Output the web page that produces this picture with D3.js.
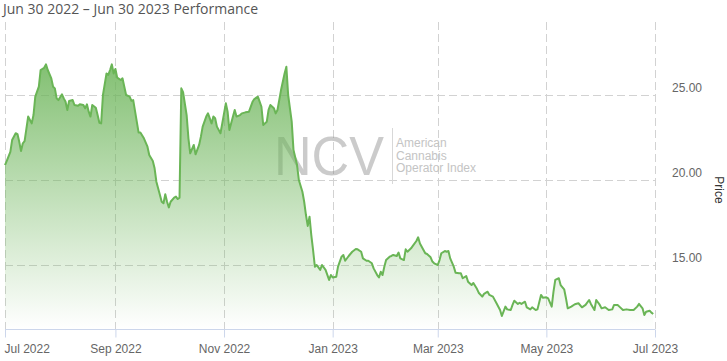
<!DOCTYPE html>
<html>
<head>
<meta charset="utf-8">
<script src="https://cdn.jsdelivr.net/npm/d3@7"></script>
<style>
  html, body { margin: 0; padding: 0; background: #fff; }
  svg { display: block; }
</style>
</head>
<body>
<svg id="chart" width="727" height="361"></svg>
<script>
const titleText = "Jun 30 2022 \u2013 Jun 30 2023 Performance";
const yAxisTitle = "Price";
const watermarkBig = "NCV";
const watermarkLines = ["American", "Cannabis", "Operator Index"];

const dates = [
"2022-07-01","2022-07-02","2022-07-04","2022-07-05","2022-07-07","2022-07-08","2022-07-09","2022-07-10","2022-07-11","2022-07-12",
"2022-07-14","2022-07-15","2022-07-16","2022-07-17","2022-07-18","2022-07-20","2022-07-21","2022-07-23","2022-07-24","2022-07-25",
"2022-07-27","2022-07-28","2022-07-29","2022-07-30","2022-07-31","2022-08-02","2022-08-03","2022-08-04","2022-08-05","2022-08-06",
"2022-08-08","2022-08-09","2022-08-11","2022-08-12","2022-08-14","2022-08-15","2022-08-16","2022-08-17","2022-08-18","2022-08-19",
"2022-08-21","2022-08-22","2022-08-23","2022-08-24","2022-08-25","2022-08-27","2022-08-28","2022-08-29","2022-08-30","2022-08-31",
"2022-09-01","2022-09-02","2022-09-04","2022-09-05","2022-09-06","2022-09-07","2022-09-09","2022-09-10","2022-09-11","2022-09-13",
"2022-09-14","2022-09-15","2022-09-17","2022-09-19","2022-09-20","2022-09-22","2022-09-23","2022-09-24","2022-09-26","2022-09-27",
"2022-09-28","2022-09-29","2022-09-30","2022-10-01","2022-10-02","2022-10-04","2022-10-05","2022-10-06","2022-10-07","2022-10-08",
"2022-10-09","2022-10-11","2022-10-12","2022-10-13","2022-10-15","2022-10-16","2022-10-18","2022-10-19","2022-10-20","2022-10-22",
"2022-10-23","2022-10-25","2022-10-26","2022-10-27","2022-10-28","2022-10-30","2022-10-31","2022-11-02","2022-11-03","2022-11-04",
"2022-11-06","2022-11-07","2022-11-08","2022-11-10","2022-11-11","2022-11-13","2022-11-15","2022-11-17","2022-11-18","2022-11-20",
"2022-11-22","2022-11-23","2022-11-25","2022-11-26","2022-11-27","2022-11-29","2022-11-30","2022-12-01","2022-12-03","2022-12-04",
"2022-12-05","2022-12-06","2022-12-07","2022-12-09","2022-12-10","2022-12-12","2022-12-13","2022-12-15","2022-12-16","2022-12-17",
"2022-12-18","2022-12-19","2022-12-20","2022-12-21","2022-12-22","2022-12-23","2022-12-24","2022-12-25","2022-12-26","2022-12-28",
"2022-12-30","2022-12-31","2023-01-01","2023-01-03","2023-01-04","2023-01-06","2023-01-07","2023-01-08","2023-01-10","2023-01-12",
"2023-01-14","2023-01-15","2023-01-17","2023-01-18","2023-01-20","2023-01-21","2023-01-23","2023-01-24","2023-01-26","2023-01-27",
"2023-01-28","2023-01-29","2023-01-30","2023-01-31","2023-02-02","2023-02-03","2023-02-04","2023-02-06","2023-02-07","2023-02-08",
"2023-02-10","2023-02-11","2023-02-12","2023-02-14","2023-02-15","2023-02-17","2023-02-18","2023-02-19","2023-02-21","2023-02-22",
"2023-02-23","2023-02-25","2023-02-26","2023-02-27","2023-03-01","2023-03-02","2023-03-03","2023-03-05","2023-03-06","2023-03-07",
"2023-03-08","2023-03-10","2023-03-11","2023-03-13","2023-03-14","2023-03-15","2023-03-17","2023-03-18","2023-03-20","2023-03-21",
"2023-03-23","2023-03-24","2023-03-26","2023-03-27","2023-03-29","2023-03-30","2023-04-01","2023-04-03","2023-04-05","2023-04-06",
"2023-04-08","2023-04-09","2023-04-11","2023-04-12","2023-04-13","2023-04-15","2023-04-16","2023-04-17","2023-04-19","2023-04-20",
"2023-04-22","2023-04-23","2023-04-25","2023-04-26","2023-04-28","2023-04-29","2023-05-01","2023-05-02","2023-05-04","2023-05-05",
"2023-05-06","2023-05-08","2023-05-09","2023-05-11","2023-05-12","2023-05-13","2023-05-15","2023-05-17","2023-05-19","2023-05-21",
"2023-05-23","2023-05-25","2023-05-26","2023-05-28","2023-05-29","2023-05-31","2023-06-01","2023-06-03","2023-06-05","2023-06-07",
"2023-06-08","2023-06-10","2023-06-11","2023-06-13","2023-06-15","2023-06-17","2023-06-19","2023-06-21","2023-06-22","2023-06-24",
"2023-06-25","2023-06-26","2023-06-28","2023-06-29","2023-06-30"
];

const prices = [
20.88,21.12,21.66,22.35,22.75,22.70,22.25,21.70,22.16,22.29,
23.73,23.53,23.33,23.82,24.90,25.49,26.47,26.60,26.80,26.47,
25.98,25.49,25.39,24.80,24.70,25.04,24.80,24.60,24.12,24.65,
24.70,24.41,24.37,24.45,24.41,24.22,24.45,24.02,23.73,24.41,
24.25,23.82,23.37,23.33,25.00,26.27,26.18,26.47,26.80,26.27,
26.53,26.02,25.88,25.98,25.49,25.00,24.90,24.66,24.70,23.43,
22.80,22.80,22.45,21.96,21.47,21.12,20.69,19.90,19.12,18.72,
18.63,19.16,18.72,18.39,18.72,18.96,19.02,18.88,18.96,25.39,
25.16,23.82,22.45,21.57,22.06,21.51,22.06,22.55,23.14,23.73,
23.92,23.33,23.73,23.63,23.14,22.75,23.33,24.51,24.02,22.94,
23.73,24.12,23.73,23.82,23.92,23.98,24.02,24.60,24.76,24.90,
24.31,23.24,23.43,24.12,24.41,24.22,23.92,24.12,25.29,25.78,
26.27,26.66,25.00,23.43,21.76,20.88,20.00,19.31,18.72,17.94,
17.30,17.84,16.76,15.88,14.90,15.00,14.86,14.71,15.00,14.71,
14.12,14.41,14.27,14.31,14.90,15.49,15.59,15.25,15.53,15.78,
15.94,15.92,15.78,15.39,15.25,15.25,15.10,14.80,14.41,14.27,
14.60,14.41,14.90,15.29,15.49,15.53,15.59,15.53,15.73,15.39,
15.29,15.92,15.78,15.98,16.12,16.41,16.63,16.27,15.88,15.69,
15.65,15.45,15.20,15.10,15.00,15.29,15.69,15.82,15.78,15.82,
15.39,14.90,14.55,14.51,14.51,14.22,14.35,14.02,13.82,13.94,
13.60,13.37,13.14,13.30,13.43,13.24,13.14,12.75,12.35,12.00,
12.55,12.39,12.35,12.65,12.90,12.71,12.78,12.71,12.84,12.51,
12.39,12.51,12.35,12.39,13.24,13.08,13.10,13.04,12.55,13.43,
14.12,14.22,13.82,13.57,13.04,12.45,12.55,12.69,12.75,12.51,
12.65,12.94,12.71,12.35,12.94,12.65,12.45,12.51,12.35,12.39,
12.65,12.65,12.55,12.35,12.39,12.35,12.35,12.55,12.71,12.45,
12.06,12.25,12.31,12.20,12.12
];

const xTickDates = ["2022-07-01","2022-09-01","2022-11-01","2023-01-01","2023-03-01","2023-05-01","2023-07-01"];
const xTickLabels = ["Jul 2022","Sep 2022","Nov 2022","Jan 2023","Mar 2023","May 2023","Jul 2023"];
const yTickValues = [15, 20, 25];
const xDomain = ["2022-07-01","2023-07-01"];
const yDomain = [11.235, 29.294];

const parse = d3.timeParse("%Y-%m-%d");
const data = dates.map((d, i) => ({ date: parse(d), value: prices[i] }));

const plot = { left: 5, right: 655, top: 22, bottom: 329 };

const svg = d3.select("#chart");
const x = d3.scaleTime().domain(xDomain.map(parse)).range([plot.left, plot.right]);
const y = d3.scaleLinear().domain(yDomain).range([plot.bottom, plot.top]);

// gradient
const defs = svg.append("defs");
const grad = defs.append("linearGradient").attr("id", "areaGrad")
  .attr("x1", 0).attr("y1", 0).attr("x2", 0).attr("y2", 1);
grad.append("stop").attr("offset", "0%").attr("stop-color", "#6db55a").attr("stop-opacity", 0.85);
grad.append("stop").attr("offset", "100%").attr("stop-color", "#6db55a").attr("stop-opacity", 0.0);

// title
svg.append("text").attr("x", 3).attr("y", 14)
  .attr("font-family", "'Open Sans', sans-serif").attr("font-size", 14)
  .attr("fill", "#555").text(titleText);

// gridlines
const grid = svg.append("g").attr("stroke", "#d2d2d2").attr("stroke-width", 1).attr("stroke-dasharray", "8,4");
grid.selectAll("line.h").data(yTickValues).join("line")
  .attr("x1", plot.left).attr("x2", plot.right)
  .attr("y1", d => Math.round(y(d)) + 0.5).attr("y2", d => Math.round(y(d)) + 0.5);
grid.selectAll("line.v").data(xTickDates.map(parse)).join("line")
  .attr("x1", d => Math.round(x(d)) + 0.5).attr("x2", d => Math.round(x(d)) + 0.5)
  .attr("y1", plot.top).attr("y2", plot.bottom);

// watermark
const wm = svg.append("g");
wm.append("text").attr("x", 274).attr("y", 175)
  .attr("font-family", "'Liberation Sans', Arial, sans-serif").attr("font-size", 55)
  .attr("textLength", 110).attr("lengthAdjust", "spacingAndGlyphs")
  .attr("fill", "#8c8c8c").attr("fill-opacity", 0.45).text(watermarkBig);
wm.append("line").attr("x1", 392.5).attr("x2", 392.5).attr("y1", 128).attr("y2", 184)
  .attr("stroke", "#d8d8d8").attr("stroke-width", 1);
wm.selectAll("text.sub").data(watermarkLines).join("text")
  .attr("x", 396).attr("y", (d, i) => 147 + i * 12.7)
  .attr("font-family", "'Liberation Sans', Arial, sans-serif").attr("font-size", 12)
  .attr("fill", "#c4c4c4").text(d => d);

// area + line
const area = d3.area().x(d => x(d.date)).y0(plot.bottom).y1(d => y(d.value));
const line = d3.line().x(d => x(d.date)).y(d => y(d.value));
svg.append("path").datum(data).attr("d", area).attr("fill", "url(#areaGrad)");
svg.append("path").datum(data).attr("d", line).attr("fill", "none")
  .attr("stroke", "#6ab556").attr("stroke-width", 2).attr("stroke-linejoin", "round");

// x axis
const xAxis = d3.axisBottom(x).tickValues(xTickDates.map(parse))
  .tickFormat((d, i) => xTickLabels[i]).tickSize(8).tickPadding(7);
const gx = svg.append("g").attr("transform", `translate(0,${plot.bottom + 0.5})`).call(xAxis);
gx.select(".domain").attr("stroke", "#ccd6eb").attr("d", `M${plot.left},0H${plot.right}`);
gx.selectAll(".tick line").attr("stroke", "#ccd6eb");
gx.selectAll(".tick text").attr("font-family", "'Liberation Sans', Arial, sans-serif")
  .attr("font-size", 12).attr("fill", "#666");
gx.selectAll(".tick text").filter((d, i) => i === 0).attr("text-anchor", "start").attr("dx", -1);

// y axis labels
const yAxis = d3.axisRight(y).tickValues(yTickValues).tickFormat(d3.format(".2f")).tickSize(0).tickPadding(0);
const gy = svg.append("g").attr("transform", `translate(672,0)`).call(yAxis);
gy.select(".domain").remove();
gy.selectAll(".tick text").attr("font-family", "'Liberation Sans', Arial, sans-serif")
  .attr("font-size", 12).attr("fill", "#666").attr("dy", "-0.25em");

// y axis title
svg.append("text").attr("transform", "translate(715,190) rotate(90)")
  .attr("text-anchor", "middle")
  .attr("font-family", "'Liberation Sans', Arial, sans-serif").attr("font-size", 12)
  .attr("fill", "#333").text(yAxisTitle);
</script>
</body>
</html>
